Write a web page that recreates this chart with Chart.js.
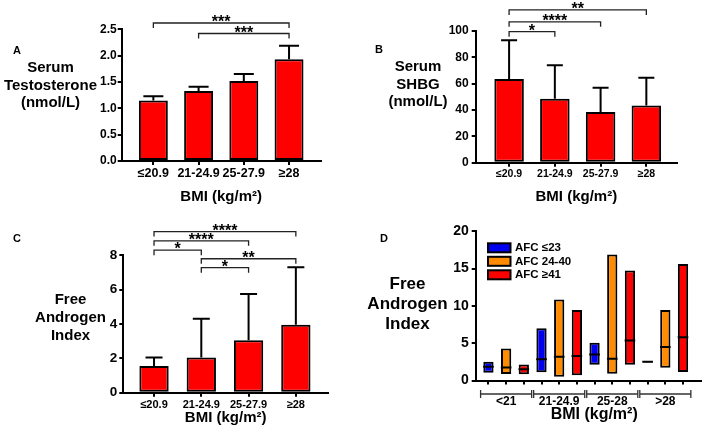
<!DOCTYPE html>
<html>
<head>
<meta charset="utf-8">
<script src="https://cdn.jsdelivr.net/npm/chart.js@4.4.0/dist/chart.umd.min.js"></script>
<style>
  html, body { margin: 0; padding: 0; background: #fff; }
  #fig { position: relative; width: 708px; height: 432px; overflow: hidden;
         font-family: "Liberation Sans", Arial, sans-serif; font-weight: bold; color: #000; }
  .panel { position: absolute; width: 354px; height: 216px; }
  .ylab { position: absolute; width: 140px; text-align: center; font-size: 15px; line-height: 17.5px; }
  .tag { position: absolute; font-size: 11px; line-height: 12px; }
</style>
</head>
<body>
<div id="fig">
  <div class="panel" style="left:0;top:0"><canvas id="chartA" width="354" height="216"></canvas></div>
  <div class="panel" style="left:354px;top:0"><canvas id="chartB" width="354" height="216"></canvas></div>
  <div class="panel" style="left:0;top:216px"><canvas id="chartC" width="354" height="216"></canvas></div>
  <div class="panel" style="left:354px;top:216px"><canvas id="chartD" width="354" height="216"></canvas></div>

  <div class="tag" style="left:13px;top:44px">A</div>
  <div class="ylab" style="left:-19.5px;top:58px">Serum<br>Testosterone<br>(nmol/L)</div>
  <div class="tag" style="left:375px;top:43px">B</div>
  <div class="ylab" style="left:348px;top:57px">Serum<br>SHBG<br>(nmol/L)</div>
  <div class="tag" style="left:13px;top:232px">C</div>
  <div class="ylab" style="left:0.5px;top:289.5px;line-height:18.2px">Free<br>Androgen<br>Index</div>
  <div class="tag" style="left:380px;top:232px">D</div>
  <div class="ylab" style="left:337.5px;top:274px;font-size:17px;line-height:20px">Free<br>Androgen<br>Index</div>
</div>

<script>
const bmiLabels = ['≤20.9', '21-24.9', '25-27.9', '≥28'];

const testoMean = [1.15, 1.33, 1.52, 1.93];
const testoUpper = [1.23, 1.41, 1.65, 2.19];
const testoSig = [[0, 3, '***'], [1, 3, '***']];

const shbgMean = [63.5, 48.5, 38.5, 43.5];
const shbgUpper = [93, 74, 57, 64.5];
const shbgSig = [[0, 3, '**'], [0, 2, '****'], [0, 1, '*']];

const faiMean = [1.55, 2.05, 3.05, 3.95];
const faiUpper = [2.05, 4.3, 5.75, 7.3];
const faiSig = [[0, 3, '****'], [0, 2, '****'], [0, 1, '*'], [1, 3, '**'], [1, 2, '*']];

// panel D: rows = AFC group, columns = BMI group
const bmiGroups = ['<21', '21-24.9', '25-28', '>28'];
const afcLabels = ['AFC ≤23', 'AFC 24-40', 'AFC ≥41'];
const afcLow = [[1.05, 1.1, 2.1, 2.42], [0.87, 0.5, 0.9, 1.7], [0.83, 0.7, 2.1, 1.14]];
const afcHigh = [[2.5, 7.0, 5.05, 2.62], [4.3, 10.85, 16.9, 9.45], [2.15, 9.45, 14.75, 15.6]];
const afcMedian = [[1.85, 2.85, 3.5, 2.52], [1.75, 3.2, 2.9, 4.5], [1.5, 3.3, 5.35, 5.8]];

const FONT = '"Liberation Sans", Arial, sans-serif';
const afcColors = ['#0000f0', '#ff8c00', '#ff0000'];
const barRed = '#ff0000';

Chart.defaults.font.family = FONT;
Chart.defaults.font.weight = 'bold';
Chart.defaults.color = '#000';

function errorBars(upper, cap) {
    return {
        id: 'errorBars',
        afterDatasetsDraw(chart) {
            const ctx = chart.ctx;
            const y = chart.scales.y;
            chart.getDatasetMeta(0).data.forEach(function (bar, i) {
                const top = y.getPixelForValue(upper[i]);
                ctx.save();
                ctx.strokeStyle = '#000';
                ctx.lineWidth = 2;
                ctx.beginPath();
                ctx.moveTo(bar.x, bar.y);
                ctx.lineTo(bar.x, top);
                ctx.moveTo(bar.x - cap / 2, top);
                ctx.lineTo(bar.x + cap / 2, top);
                ctx.stroke();
                ctx.restore();
            });
        }
    };
}

function sigBrackets(pairs, levels) {
    return {
        id: 'sigBrackets',
        afterDraw(chart) {
            const ctx = chart.ctx;
            const x = chart.scales.x, y = chart.scales.y;
            ctx.save();
            ctx.strokeStyle = '#222';
            ctx.lineWidth = 1.3;
            ctx.fillStyle = '#000';
            ctx.font = 'bold 16px ' + FONT;
            ctx.textAlign = 'center';
            ctx.textBaseline = 'alphabetic';
            pairs.forEach(function (p, i) {
                const yy = y.getPixelForValue(levels[i]);
                const xa = x.getPixelForValue(p[0]);
                const xb = x.getPixelForValue(p[1]);
                ctx.beginPath();
                ctx.moveTo(xa, yy + 5);
                ctx.lineTo(xa, yy);
                ctx.lineTo(xb, yy);
                ctx.lineTo(xb, yy + 5);
                ctx.stroke();
                ctx.fillText(p[2], (xa + xb) / 2, yy + 4);
            });
            ctx.restore();
        }
    };
}

function axisStyle() {
    return {
        grid: { drawOnChartArea: false, tickLength: 4, color: '#000', lineWidth: 2, offset: false },
        border: { color: '#000', width: 2 }
    };
}

function barPanel(id, cfg) {
    const ax = axisStyle();
    return new Chart(document.getElementById(id), {
        type: 'bar',
        data: {
            datasets: [{
                data: cfg.means.map(function (v, i) { return { x: i, y: v }; }),
                backgroundColor: barRed,
                borderColor: '#000',
                borderWidth: 2,
                borderSkipped: false,
                categoryPercentage: 1,
                barPercentage: cfg.barPct
            }]
        },
        options: {
            responsive: false,
            animation: false,
            layout: { padding: { top: cfg.padTop, right: cfg.padRight, left: 0, bottom: 0 } },
            plugins: { legend: { display: false }, tooltip: { enabled: false } },
            scales: {
                x: {
                    type: 'linear', min: cfg.xMin, max: cfg.xMax, offset: false,
                    afterBuildTicks: function (s) { s.ticks = bmiLabels.map(function (_, i) { return { value: i }; }); },
                    ticks: {
                        autoSkip: false, maxRotation: 0, padding: cfg.xPad,
                        font: { size: cfg.xFont, weight: 'bold' },
                        callback: function (v) { return bmiLabels[v]; }
                    },
                    grid: ax.grid, border: ax.border,
                    title: {
                        display: true, text: 'BMI (kg/m²)', color: '#000',
                        font: { size: 15, weight: 'bold' },
                        padding: { top: 0, bottom: cfg.titlePad }
                    },
                    afterFit: function (s) { s.height = cfg.xHeight; }
                },
                y: {
                    min: 0, max: cfg.yMax,
                    ticks: {
                        stepSize: cfg.yStep, padding: cfg.yPad,
                        font: { size: cfg.yFont, weight: 'bold' },
                        callback: cfg.yFmt
                    },
                    grid: ax.grid, border: ax.border,
                    afterFit: function (s) { s.width = cfg.yWidth; }
                }
            }
        },
        plugins: [errorBars(cfg.upper, cfg.cap), sigBrackets(cfg.sig, cfg.sigLevels)]
    });
}

barPanel('chartA', {
    means: testoMean, upper: testoUpper, sig: testoSig, sigLevels: [2.62, 2.42],
    xMin: -0.7, xMax: 3.7, barPct: 0.64, cap: 20,
    yMax: 2.5, yStep: 0.5, yFmt: function (v) { return v.toFixed(1); },
    padTop: 29.3, padRight: 33.3, yWidth: 121.7, xHeight: 55,
    xFont: 12.5, xPad: 1, yFont: 12, yPad: 1, titlePad: 10
});

barPanel('chartB', {
    means: shbgMean, upper: shbgUpper, sig: shbgSig, sigLevels: [116, 107, 99.5],
    xMin: -0.73, xMax: 3.67, barPct: 0.645, cap: 16,
    yMax: 100, yStep: 20, yFmt: function (v) { return v; },
    padTop: 31, padRight: 31, yWidth: 121.7, xHeight: 53.3,
    xFont: 10.5, xPad: 1, yFont: 12, yPad: 3, titlePad: 10
});

barPanel('chartC', {
    means: faiMean, upper: faiUpper, sig: faiSig, sigLevels: [9.38, 8.84, 8.30, 7.80, 7.28],
    xMin: -0.65, xMax: 3.68, barPct: 0.62, cap: 17,
    yMax: 8, yStep: 2, yFmt: function (v) { return v; },
    padTop: 39.3, padRight: 26, yWidth: 123.3, xHeight: 39.3,
    xFont: 11, xPad: 2, yFont: 13.5, yPad: 2, titlePad: 5.3
});

// panel D: floating min-max bars with a median mark, grouped by BMI
const nAfc = afcLabels.length;

const groupAxis = {
    id: 'groupAxis',
    afterDraw(chart) {
        const ctx = chart.ctx, area = chart.chartArea, x = chart.scales.x;
        const yy = area.bottom + 13.5;
        ctx.save();
        ctx.strokeStyle = '#333';
        ctx.lineWidth = 1.3;
        ctx.fillStyle = '#000';
        ctx.textAlign = 'center';
        ctx.textBaseline = 'middle';
        ctx.font = 'bold 12px ' + FONT;
        bmiGroups.forEach(function (g, gi) {
            const xl = x.getPixelForValue(gi * nAfc - 0.5) + 1;
            const xr = x.getPixelForValue(gi * nAfc + nAfc - 0.5) - 1;
            ctx.beginPath();
            ctx.moveTo(xl, yy - 4); ctx.lineTo(xl, yy + 4);
            ctx.moveTo(xr, yy - 4); ctx.lineTo(xr, yy + 4);
            ctx.moveTo(xl, yy); ctx.lineTo(xr, yy);
            ctx.stroke();
            ctx.fillText(g, x.getPixelForValue(gi * nAfc + (nAfc - 1) / 2), yy + 7.5);
        });
        ctx.font = 'bold 16px ' + FONT;
        ctx.fillText('BMI (kg/m²)', (area.left + area.right) / 2 + 6, yy + 21);
        ctx.restore();
    }
};

const afcLegend = {
    id: 'afcLegend',
    afterDraw(chart) {
        const ctx = chart.ctx, area = chart.chartArea;
        const x0 = area.left + 12.3, y0 = area.top + 12;
        ctx.save();
        ctx.lineWidth = 2;
        ctx.strokeStyle = '#000';
        ctx.font = 'bold 11.5px ' + FONT;
        ctx.textBaseline = 'middle';
        ctx.textAlign = 'left';
        afcLabels.forEach(function (lab, k) {
            const yy = y0 + k * 13.5;
            ctx.fillStyle = afcColors[k];
            ctx.fillRect(x0, yy, 22.5, 9);
            ctx.strokeRect(x0, yy, 22.5, 9);
            ctx.fillStyle = '#000';
            ctx.fillText(lab, x0 + 27, yy + 5);
        });
        ctx.restore();
    }
};

const axD = axisStyle();
const dsD = afcLabels.map(function (lab, k) {
    return {
        type: 'bar', label: lab, order: 2,
        data: bmiGroups.map(function (g, gi) { return { x: gi * nAfc + k, y: [afcLow[k][gi], afcHigh[k][gi]] }; }),
        backgroundColor: afcColors[k], borderColor: '#000', borderWidth: 2, borderSkipped: false,
        grouped: false, categoryPercentage: 1, barPercentage: 0.58
    };
});
dsD.push({
    type: 'line', label: 'median', order: 0, showLine: false,
    data: afcMedian.flatMap(function (row, k) {
        return row.map(function (v, gi) { return { x: gi * nAfc + k, y: v }; });
    }),
    pointStyle: 'line', pointRadius: 5.3, pointHoverRadius: 5.3,
    borderColor: '#000', borderWidth: 2
});

new Chart(document.getElementById('chartD'), {
    type: 'bar',
    data: { datasets: dsD },
    options: {
        responsive: false,
        animation: false,
        layout: { padding: { top: 15.3, right: 1, left: 0, bottom: 0 } },
        plugins: { legend: { display: false }, tooltip: { enabled: false } },
        scales: {
            x: {
                type: 'linear', min: -0.72, max: 12, offset: false,
                afterBuildTicks: function (s) {
                    s.ticks = [];
                    for (let i = 0; i < bmiGroups.length * nAfc; i++) s.ticks.push({ value: i });
                },
                ticks: { display: false },
                grid: axD.grid, border: axD.border,
                afterFit: function (s) { s.height = 51.5; }
            },
            y: {
                min: 0, max: 20,
                ticks: { stepSize: 5, padding: 3, font: { size: 14, weight: 'bold' } },
                grid: axD.grid, border: axD.border,
                afterFit: function (s) { s.width = 121.7; }
            }
        }
    },
    plugins: [groupAxis, afcLegend]
});
</script>
</body>
</html>
